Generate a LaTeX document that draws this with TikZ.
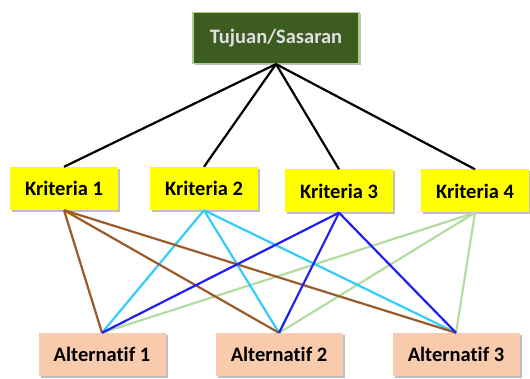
\documentclass[tikz,border=0pt]{standalone}
\usepackage{fontspec}
\setmainfont{Carlito}[Ligatures=NoCommon]
\usetikzlibrary{shadows}
\definecolor{goalgreen}{HTML}{3D5C22}
\definecolor{glowgreen}{HTML}{A9D18E}
\definecolor{kyellow}{HTML}{FFFF00}
\definecolor{altpeach}{HTML}{F8CBAD}
\definecolor{lbrown}{HTML}{9A5A2A}
\definecolor{lcyan}{HTML}{33CCFF}
\definecolor{lblue}{HTML}{1F1FF0}
\definecolor{lgreen}{HTML}{B4DCA0}
\tikzset{
  boxbase/.style={rectangle, inner sep=0pt, font=\fontsize{20.5}{24}\selectfont\bfseries,
    drop shadow={shadow xshift=2pt, shadow yshift=-2pt, fill=black, opacity=0.25}},
  goalbox/.style={boxbase, fill=goalgreen, draw=glowgreen, line width=1.2pt, text=white!88!black,
    minimum width=166pt, minimum height=51pt},
  critbox/.style={boxbase, fill=kyellow, text=black, minimum width=108pt, minimum height=43pt},
  altbox/.style={boxbase, fill=altpeach, text=black, minimum width=127pt, minimum height=43pt},
  link/.style={line width=2.2pt},
}
\begin{document}
\begin{tikzpicture}[x=1pt,y=-1pt]
\useasboundingbox (0,0) rectangle (530,379);
\node[goalbox] (g) at (276,38) {Tujuan/Sasaran};
\node[critbox] (k1) at (64,188.5) {Kriteria 1};
\node[critbox] (k2) at (204,188.5) {Kriteria 2};
\node[critbox] (k3) at (339,191) {Kriteria 3};
\node[critbox] (k4) at (475,191) {Kriteria 4};
\node[altbox] (a1) at (102,354.5) {Alternatif 1};
\node[altbox] (a2) at (279,354.5) {Alternatif 2};
\node[altbox] (a3) at (456,354.5) {Alternatif 3};
\foreach \k in {k1,k2,k3,k4}
  \draw[link, black] (g.south) -- (\k.north);
\foreach \a in {a1,a2,a3}
  \draw[link, lgreen] (k4.south) -- (\a.north);
\foreach \a in {a1,a2,a3}
  \draw[link, lcyan] (k2.south) -- (\a.north);
\foreach \a in {a1,a2,a3}
  \draw[link, lbrown] (k1.south) -- (\a.north);
\foreach \a in {a1,a2,a3}
  \draw[link, lblue] (k3.south) -- (\a.north);
\end{tikzpicture}
\end{document}
